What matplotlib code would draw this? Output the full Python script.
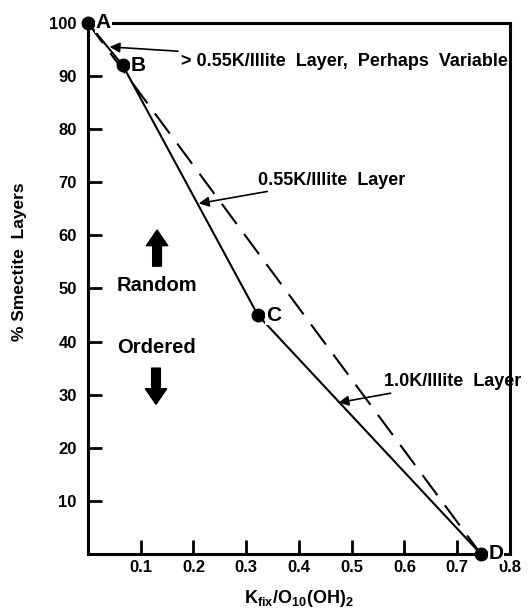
import matplotlib
matplotlib.use("Agg")
import matplotlib.pyplot as plt

# Smectite/illite data points
point_names = ["A", "B", "C", "D"]
k_fix = [0.0, 0.066, 0.322, 0.745]
smectite = [100, 92, 45, 0]

x_ticks = [0.1, 0.2, 0.3, 0.4, 0.5, 0.6, 0.7, 0.8]
y_ticks = [10, 20, 30, 40, 50, 60, 70, 80, 90, 100]

plt.rcParams['font.family'] = ['Liberation Sans', 'DejaVu Sans']
plt.rcParams['font.weight'] = 'bold'
plt.rcParams['mathtext.fontset'] = 'custom'
plt.rcParams['mathtext.rm'] = 'Liberation Sans:bold'
plt.rcParams['mathtext.it'] = 'Liberation Sans:bold'
plt.rcParams['mathtext.bf'] = 'Liberation Sans:bold'

fig = plt.figure(figsize=(5.30, 6.13), dpi=100)
ax = fig.add_axes([0.166, 0.0963, 0.796, 0.8662])

# Solid path A-B-C-D and dashed straight line A-D
ax.plot(k_fix, smectite, color='black', lw=1.5, zorder=3)
ax.plot([k_fix[0], k_fix[-1]], [smectite[0], smectite[-1]], color='black',
        lw=1.5, dashes=(12, 6), zorder=3)
ax.plot(k_fix, smectite, 'o', color='black', ms=9, zorder=5, clip_on=False)

# Point labels
for name, x, y in zip(point_names, k_fix, smectite):
    ax.text(x + 0.015, y, name, fontsize=15, fontweight='bold', ha='left',
            va='center', zorder=6,
            bbox=dict(facecolor='white', edgecolor='none', pad=0.5))

# Annotations
arrow = dict(arrowstyle='-|>', color='black', lw=1.2, mutation_scale=15,
             shrinkA=0, shrinkB=0)
ax.annotate("> 0.55K/Illite  Layer,  Perhaps  Variable", xy=(0.041, 95.5),
            xytext=(0.176, 92.7), fontsize=13, fontweight='bold',
            va='center', ha='left', arrowprops=arrow)
ax.annotate("0.55K/Illite  Layer", xy=(0.21, 66), xytext=(0.322, 70.4),
            fontsize=13, fontweight='bold', va='center', ha='left',
            arrowprops=arrow)
ax.annotate("1.0K/Illite  Layer", xy=(0.475, 28.5), xytext=(0.562, 32.4),
            fontsize=13, fontweight='bold', va='center', ha='left',
            arrowprops=arrow)

# Random / Ordered
ax.text(0.131, 50.5, "Random", fontsize=14.5, fontweight='bold', ha='center', va='center')
ax.text(0.129, 38.8, "Ordered", fontsize=14.5, fontweight='bold', ha='center', va='center')
block = dict(arrowstyle='simple,head_width=1.1,head_length=0.8,tail_width=0.45',
             fc='black', ec='black', mutation_scale=14, shrinkA=0, shrinkB=0)
ax.annotate('', xy=(0.131, 61), xytext=(0.131, 54.2), arrowprops=block)
ax.annotate('', xy=(0.129, 28.2), xytext=(0.129, 35), arrowprops=block)

ax.set_xlim(0, 0.8)
ax.set_ylim(0, 100)
ax.set_xticks(x_ticks)
ax.set_xticklabels([f"{t:.1f}" for t in x_ticks])
ax.set_yticks(y_ticks)
ax.tick_params(direction='in', length=10, width=2, labelsize=12)
ax.tick_params(axis='y', pad=8)
ax.tick_params(axis='x', pad=4)
for lab in ax.get_xticklabels() + ax.get_yticklabels():
    lab.set_fontweight('bold')
for s in ax.spines.values():
    s.set_linewidth(2.2)

ax.set_ylabel("% Smectite  Layers", fontsize=12.5, fontweight='bold')
ax.yaxis.set_label_coords(-0.145, 0.55)
ax.set_xlabel(r"K$_{fix}$/O$_{10}$(OH)$_2$", fontsize=13, fontweight='bold', labelpad=10)

fig.savefig("out.png", dpi=100)
